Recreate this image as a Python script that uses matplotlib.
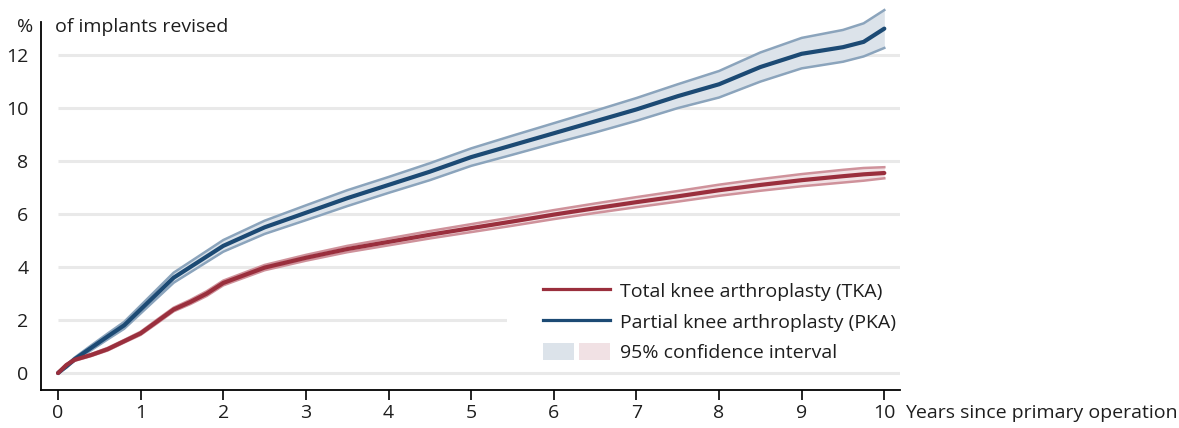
import numpy as np
import matplotlib
matplotlib.use('Agg')
import matplotlib.pyplot as plt
from matplotlib.lines import Line2D
from matplotlib.patches import Patch, Rectangle
from matplotlib.legend_handler import HandlerTuple

plt.rcParams['font.family'] = ['Open Sans', 'DejaVu Sans']

# cumulative revision rate (%)
years = [0, 0.1, 0.2, 0.4, 0.6, 0.8, 1.0, 1.2, 1.4, 1.6, 1.8, 2.0, 2.5, 3.0, 3.5, 4.0,
         4.5, 5.0, 5.5, 6.0, 6.5, 7.0, 7.5, 8.0, 8.5, 9.0, 9.5, 9.75, 10.0]

pka = [0, 0.25, 0.52, 0.95, 1.38, 1.8, 2.4, 3.0, 3.6, 4.0, 4.4, 4.8, 5.5, 6.05, 6.6, 7.1,
       7.6, 8.15, 8.6, 9.05, 9.5, 9.95, 10.45, 10.9, 11.55, 12.05, 12.3, 12.5, 13.0]
pka_lo = [0, 0.2, 0.46, 0.86, 1.27, 1.67, 2.25, 2.83, 3.41, 3.8, 4.19, 4.58, 5.25, 5.77, 6.3, 6.8,
          7.28, 7.82, 8.24, 8.67, 9.08, 9.52, 10.0, 10.4, 11.0, 11.5, 11.75, 11.95, 12.27]
pka_hi = [0, 0.3, 0.58, 1.04, 1.49, 1.93, 2.55, 3.17, 3.79, 4.2, 4.61, 5.02, 5.75, 6.33, 6.9, 7.4,
          7.92, 8.48, 8.96, 9.43, 9.9, 10.38, 10.9, 11.4, 12.1, 12.65, 12.95, 13.2, 13.7]

tka = [0, 0.3, 0.5, 0.68, 0.9, 1.2, 1.5, 1.95, 2.4, 2.68, 3.0, 3.4, 3.98, 4.35, 4.68, 4.95,
       5.22, 5.47, 5.72, 5.98, 6.22, 6.45, 6.67, 6.9, 7.1, 7.28, 7.43, 7.5, 7.55]
tka_lo = [0, 0.27, 0.46, 0.64, 0.85, 1.15, 1.44, 1.88, 2.33, 2.6, 2.91, 3.31, 3.88, 4.24, 4.56, 4.82,
          5.08, 5.32, 5.56, 5.81, 6.04, 6.26, 6.47, 6.69, 6.88, 7.05, 7.19, 7.26, 7.35]
tka_hi = [0, 0.33, 0.54, 0.72, 0.95, 1.25, 1.56, 2.02, 2.47, 2.76, 3.09, 3.49, 4.08, 4.46, 4.8, 5.08,
          5.36, 5.62, 5.88, 6.15, 6.4, 6.64, 6.87, 7.11, 7.32, 7.51, 7.67, 7.74, 7.77]

yticks = [0, 2, 4, 6, 8, 10, 12]
xticks = [0, 1, 2, 3, 4, 5, 6, 7, 8, 9, 10]

red = '#9a2f3d'
red_edge = '#cf929b'
red_fill = '#f1e1e4'
blue = '#1c4a74'
blue_edge = '#8ba4bc'
blue_fill = '#dce3ea'
txt = '#1e1e1e'
fs = 14

fig = plt.figure(figsize=(11.79, 4.28), dpi=100)
ax = fig.add_axes([41/1179, 38/428, 859/1179, 368/428])

xmin, xmax = -0.206, 10.19
ax.set_xlim(xmin, xmax)
ax.set_ylim(-0.64, 13.25)

# horizontal grid lines start at x=0
ax.hlines(yticks, 0, xmax, color='#e9e9e9', lw=2.2, zorder=0)
# white area behind the legend hides part of the grid
ax.add_patch(Rectangle((0.5425, 0.06), 0.46, 0.245, transform=ax.transAxes,
                       facecolor='white', edgecolor='none', zorder=0.5))

ax.fill_between(years, pka_lo, pka_hi, color=blue_fill, lw=0, zorder=1, clip_on=False)
ax.plot(years, pka_lo, color=blue_edge, lw=1.8, zorder=2, clip_on=False)
ax.plot(years, pka_hi, color=blue_edge, lw=1.8, zorder=2, clip_on=False)
ax.fill_between(years, tka_lo, tka_hi, color=red_fill, lw=0, zorder=1, clip_on=False)
ax.plot(years, tka_lo, color=red_edge, lw=1.8, zorder=2, clip_on=False)
ax.plot(years, tka_hi, color=red_edge, lw=1.8, zorder=2, clip_on=False)
ax.plot(years, pka, color=blue, lw=3.0, zorder=3, solid_capstyle='round', clip_on=False)
ax.plot(years, tka, color=red, lw=3.0, zorder=4, solid_capstyle='round', clip_on=False)

for s in ['top', 'right']:
    ax.spines[s].set_visible(False)
ax.spines['left'].set_linewidth(1.3)
ax.spines['bottom'].set_linewidth(1.3)

ax.set_yticks(yticks)
ax.set_yticklabels([str(v) for v in yticks], fontsize=fs, color=txt)
ax.tick_params(axis='y', length=0, pad=9)
ax.set_xticks(xticks)
ax.set_xticklabels([str(v) for v in xticks], fontsize=fs, color=txt)
ax.tick_params(axis='x', length=7, width=1.2, pad=3)

fig.text(17/1179, 1 - 27/428, '%', fontsize=fs, ha='left', va='center', color=txt)
fig.text(55/1179, 1 - 27/428, 'of implants revised', fontsize=fs, ha='left', va='center', color=txt)
fig.text(905/1179, 1 - 413/428, 'Years since primary operation', fontsize=fs, ha='left', va='center', color=txt)

handles = [Line2D([], [], color=red, lw=2.3),
           Line2D([], [], color=blue, lw=2.3),
           (Patch(facecolor=blue_fill, edgecolor='none'), Patch(facecolor=red_fill, edgecolor='none'))]
labels = ['Total knee arthroplasty (TKA)', 'Partial knee arthroplasty (PKA)', '95% confidence interval']
leg = ax.legend(handles, labels, loc='center left', bbox_to_anchor=(543/1179, 1 - 322/428),
                bbox_transform=fig.transFigure, frameon=False, fontsize=fs,
                handlelength=3.45, handleheight=1.0, handletextpad=0.5, labelspacing=0.58,
                borderpad=0, borderaxespad=0,
                handler_map={tuple: HandlerTuple(ndivide=None, pad=0.26)})
for t in leg.get_texts():
    t.set_color(txt)

fig.savefig('out.png', dpi=100)
